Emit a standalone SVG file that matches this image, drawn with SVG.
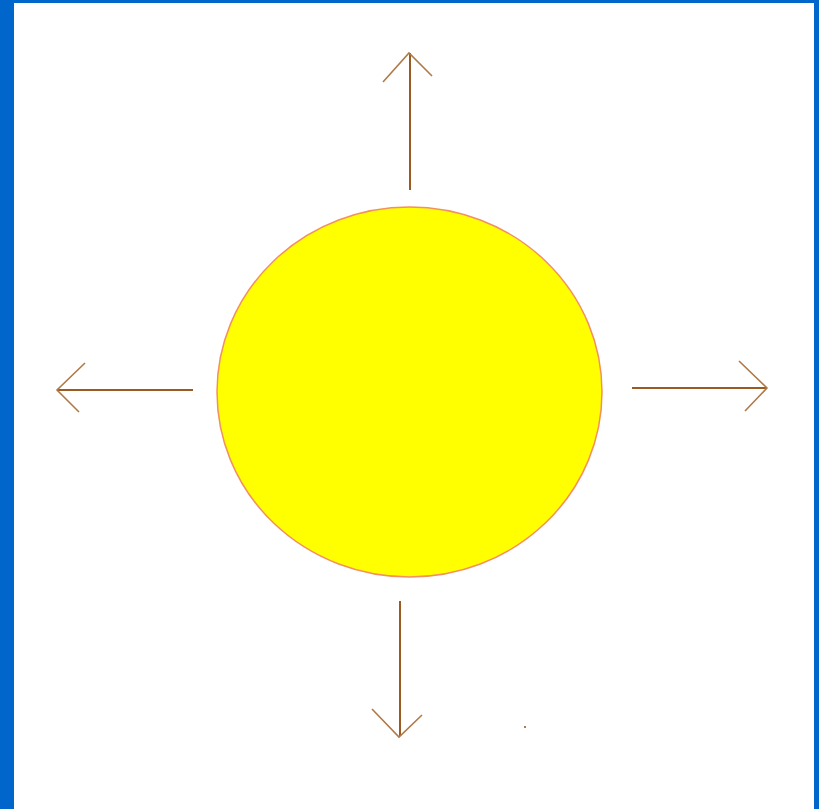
<svg xmlns="http://www.w3.org/2000/svg" width="819" height="809" viewBox="0 0 819 809">
<style>
.frame{fill:#0066cc}
.arrow{stroke:#9a5a22;stroke-width:2;fill:none;stroke-linecap:butt}
.head{stroke:#b07a48;stroke-width:1.6;fill:none}
</style>
<rect x="0" y="0" width="819" height="809" fill="#ffffff"/>
<g id="frame">
<rect class="frame" x="0" y="0" width="14" height="809"/>
<rect class="frame" x="0" y="0" width="819" height="3"/>
<rect class="frame" x="814" y="0" width="5" height="809"/>
</g>
<g id="sun">
<ellipse cx="409.5" cy="392" rx="192.5" ry="185" fill="#ffff00" stroke="#f39060" stroke-width="1.5"/>
</g>
<g id="connectors">
<line class="arrow" x1="410" y1="190" x2="410" y2="53"/>
<polyline class="head" points="383,82 409,53 432,76"/>
<line class="arrow" x1="193" y1="390" x2="57" y2="390"/>
<polyline class="head" points="85,363 57,390 79,412"/>
<line class="arrow" x1="632" y1="388" x2="767" y2="388"/>
<polyline class="head" points="739,361 767,388 745,411"/>
<line class="arrow" x1="400" y1="601" x2="400" y2="736"/>
<polyline class="head" points="372,709 399,737 422,715"/>
</g>
<rect x="524" y="726" width="2" height="2" fill="#b07a48"/>
</svg>
